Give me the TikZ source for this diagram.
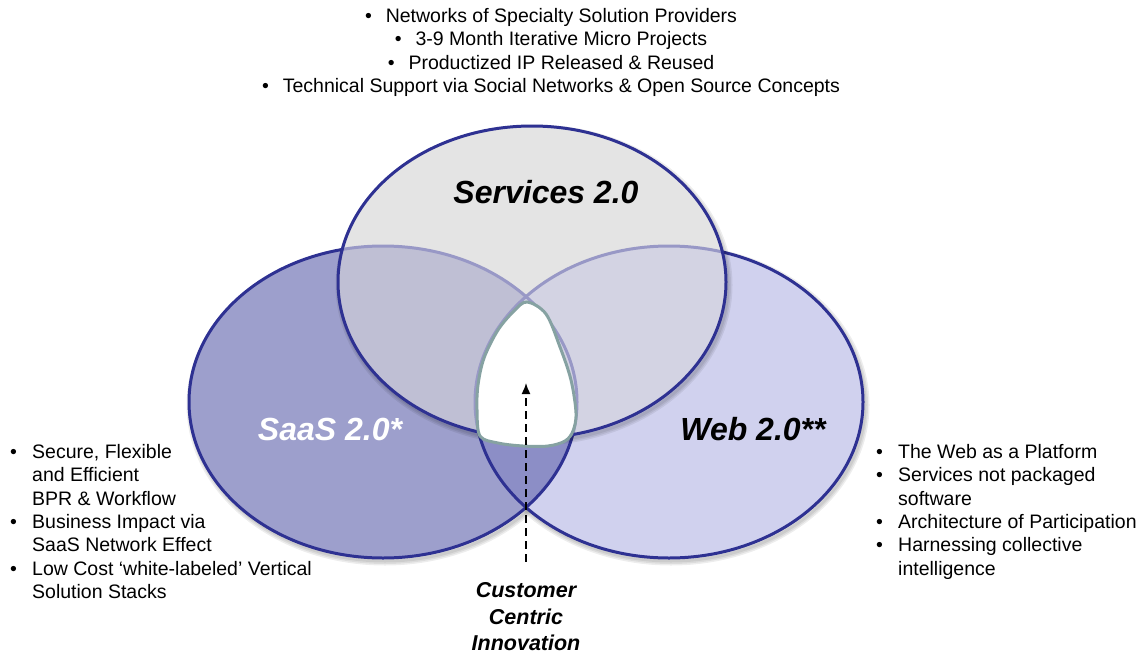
\documentclass[tikz,border=0pt]{standalone}
\usepackage{fontspec}
\setmainfont{Liberation Sans}
\usetikzlibrary{arrows.meta}

\definecolor{ringblue}{HTML}{2E3192}
\definecolor{ringfade}{HTML}{9898C6}
\definecolor{saasfill}{HTML}{9D9FCC}
\definecolor{webfill}{HTML}{D0D1EE}
\definecolor{servfill}{HTML}{E4E4E4}
\definecolor{saasweb}{HTML}{8C8EC6}
\definecolor{servsaas}{HTML}{BFBFD4}
\definecolor{servweb}{HTML}{D3D3E3}
\definecolor{coreedge}{HTML}{86A2A2}

% bullet and hanging indent for the side lists
\newcommand\bul{\makebox[22pt][l]{\textbullet}}
\newcommand\ind{\hspace*{22pt}}

\tikzset{
  ring/.style={draw=ringblue,line width=3pt},
  softshadow/.style={draw=black,line width=#1,opacity=0.07},
  blist/.style={inner sep=0pt,font=\fontsize{19.5pt}{23.4pt}\selectfont},
  venntitle/.style={inner sep=0pt,font=\fontsize{32pt}{38pt}\selectfont\bfseries\itshape},
}

\def\ringshape{ellipse [x radius=194pt,y radius=156pt]}

\begin{document}
\begin{tikzpicture}[x=1pt,y=-1pt]
\useasboundingbox (0,0) rectangle (1145,656);

% lower pair of rings
\foreach \w in {9pt,6pt,3pt} {
  \draw[softshadow=\w] (385,405) \ringshape;
  \draw[softshadow=\w] (671,405) \ringshape;
}
\fill[saasfill] (383,402) \ringshape;
\fill[webfill] (669,402) \ringshape;
\begin{scope}
  \clip (383,402) \ringshape;
  \fill[saasweb] (669,402) \ringshape;
\end{scope}
\draw[ring] (383,402) \ringshape;
\draw[ring] (669,402) \ringshape;

% top ring, laid over the others
\foreach \w in {9pt,6pt,3pt}
  \draw[softshadow=\w] (534,285) \ringshape;
\fill[servfill] (532,282) \ringshape;
\begin{scope}
  \clip (532,282) \ringshape;
  \fill[servsaas] (383,402) \ringshape;
  \fill[servweb] (669,402) \ringshape;
  \draw[ringfade,line width=3pt] (383,402) \ringshape;
  \draw[ringfade,line width=3pt] (669,402) \ringshape;
\end{scope}
\draw[ring] (532,282) \ringshape;

% the white core where all three meet
\draw[coreedge,line width=3pt,fill=white] plot[smooth cycle,tension=0.55] coordinates {
  (527,302) (546,314) (560,347) (571,380) (576,413) (573,431) (565,441)
  (548,446) (523,446) (498,443) (480,436) (477,410) (478,385) (484,358)
  (498,330) (514,311)};
\coordinate (core) at (526,383);

\node[venntitle] (services) at (546,192) {Services 2.0};
\node[venntitle,text=white] (saas) at (330,429) {SaaS 2.0*};
\node[venntitle] (web) at (753,429) {Web 2.0**};

\node[blist,anchor=north,align=center] (servlist) at (551,8) {%
  \textbullet\hspace{14pt}Networks of Specialty Solution Providers\\
  \textbullet\hspace{14pt}3-9 Month Iterative Micro Projects\\
  \textbullet\hspace{14pt}Productized IP Released \& Reused\\
  \textbullet\hspace{14pt}Technical Support via Social Networks \& Open Source Concepts};

\node[blist,anchor=north west,align=left] (saaslist) at (10,444) {%
  \bul Secure, Flexible\\
  \ind and Efficient\\
  \ind BPR \& Workflow\\
  \bul Business Impact via\\
  \ind SaaS Network Effect\\
  \bul Low Cost `white-labeled' Vertical\\
  \ind Solution Stacks};

\node[blist,anchor=north west,align=left] (weblist) at (876,444) {%
  \bul The Web as a Platform\\
  \bul Services not packaged\\
  \ind software\\
  \bul Architecture of Participation\\
  \bul Harnessing collective\\
  \ind intelligence};

\node[inner sep=0pt,align=center,font=\fontsize{21.5pt}{26.5pt}\selectfont\bfseries\itshape]
  (cci) at (526,617) {Customer\\Centric\\Innovation};

\draw[line width=1.5pt,dash pattern=on 8pt off 5pt,-{Latex[length=11pt,width=9pt]},shorten <=21pt]
  (cci) -- (core);
\end{tikzpicture}
\end{document}
